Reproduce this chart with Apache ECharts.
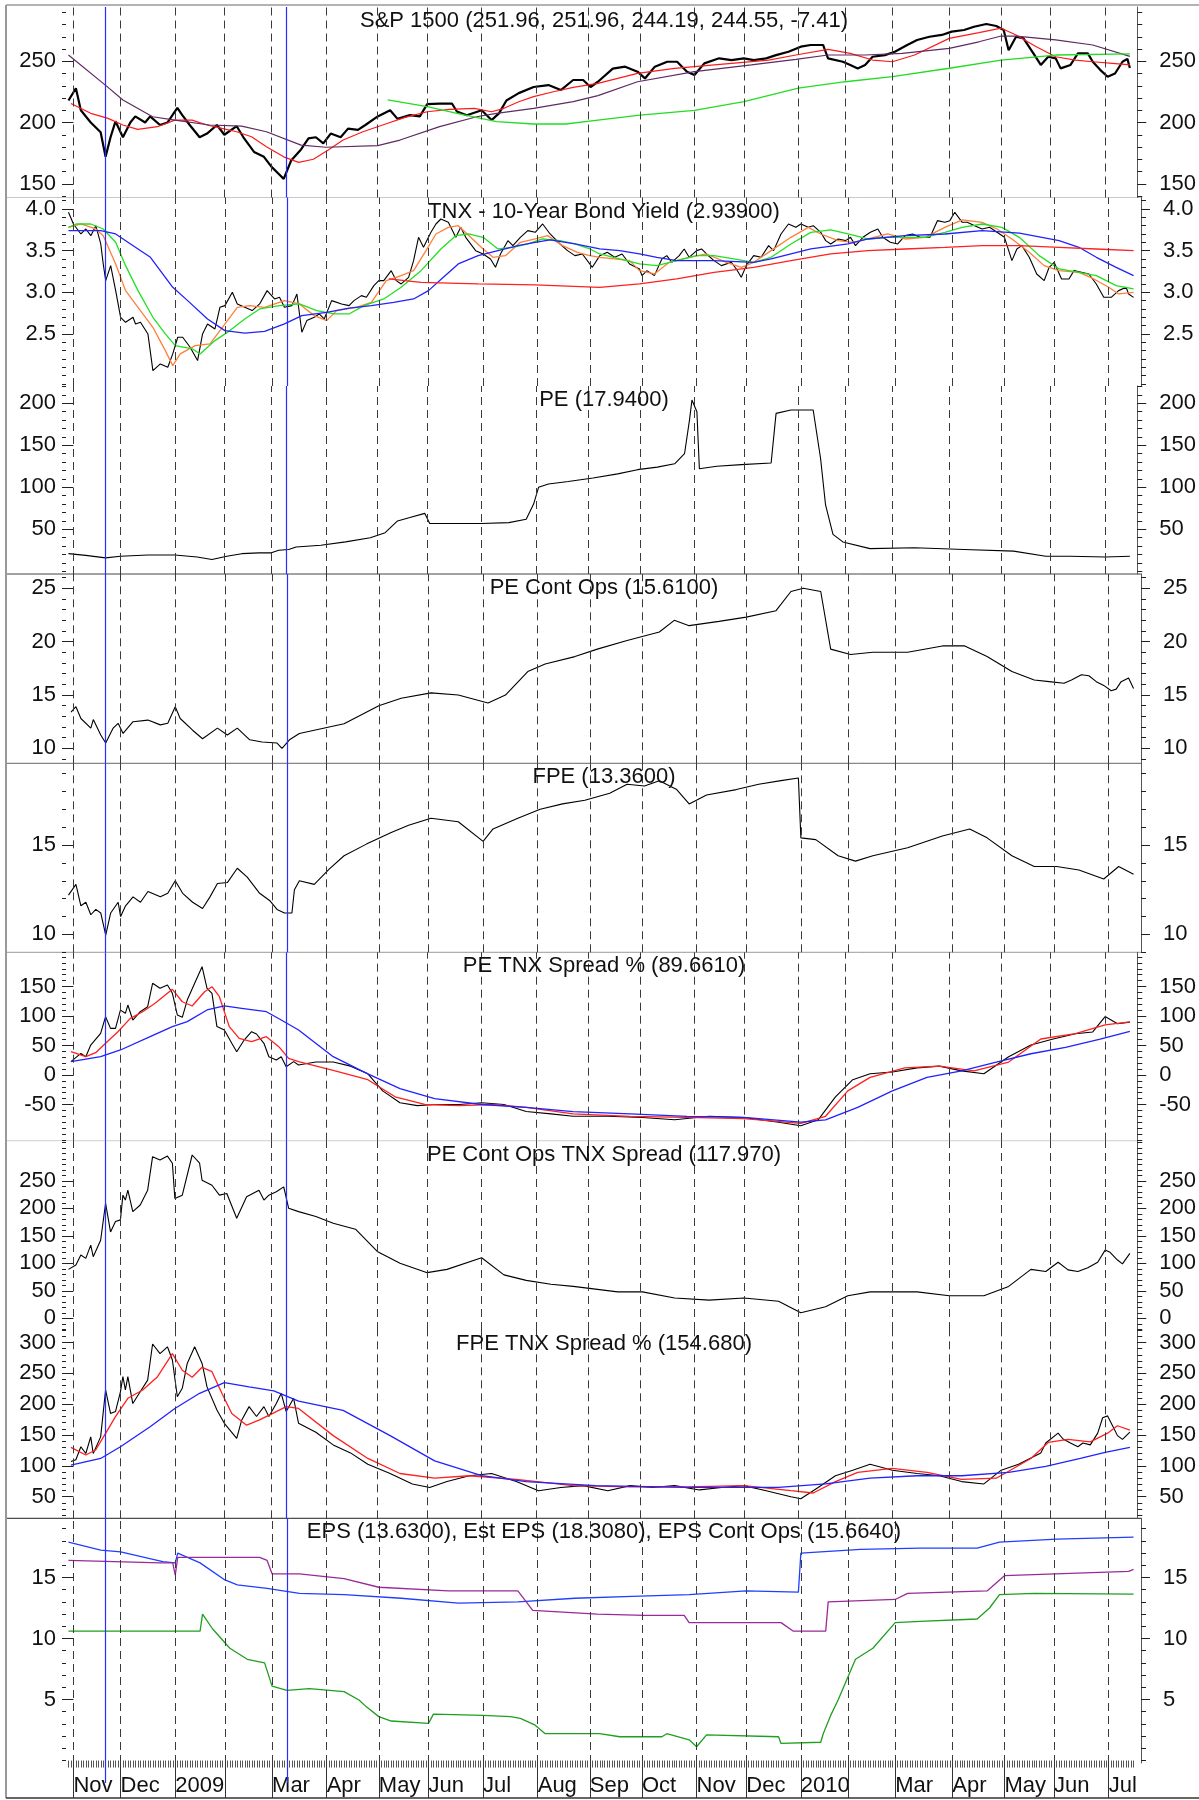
<!DOCTYPE html>
<html>
<head>
<meta charset="utf-8">
<title>S&amp;P 1500 valuation panels</title>
<script src="https://cdn.jsdelivr.net/npm/echarts@6.0.0/dist/echarts.min.js"></script>
<style>
  html, body { margin: 0; padding: 0; background: #fff; }
  #chart { width: 1199px; height: 1800px; }
</style>
</head>
<body>
<div id="chart"></div>
<script>
// x is a trading-day index, 0 = 3 Nov 2008, 427 = 16 Jul 2010
const monthStarts = [0, 19, 41, 61, 80, 102, 123, 143, 165, 187, 208, 229, 251, 271, 293, 312, 331, 354, 375, 395, 417];
const monthLabels = ['Nov', 'Dec', '2009', '', 'Mar', 'Apr', 'May', 'Jun', 'Jul', 'Aug', 'Sep', 'Oct', 'Nov', 'Dec', '2010', '', 'Mar', 'Apr', 'May', 'Jun', 'Jul'];
const markerDays = [13, 86]; // blue verticals

// tick labels
const spxTicks = [150, 200, 250];
const tnxTicks = [2.5, 3.0, 3.5, 4.0];
const peTicks = [50, 100, 150, 200];
const peContTicks = [10, 15, 20, 25];
const fpeTicks = [10, 15];
const peSpreadTicks = [-50, 0, 50, 100, 150];
const peContSpreadTicks = [0, 50, 100, 150, 200, 250];
const fpeSpreadTicks = [50, 100, 150, 200, 250, 300];
const epsTicks = [5, 10, 15];

// S&P 1500 price and averages  [day, value]
const spx = [[-2,218],[1,228],[3,210],[7,200],[11,192],[13,172],[15,188],[17,201],[20,188],[23,200],[25,205],[29,200],[31,205],[35,198],[38,200],[42,212],[44,206],[47,198],[51,188],[54,191],[58,198],[61,190],[66,197],[69,187],[73,176],[77,172],[80,164],[83,158],[85,154],[88,169],[92,178],[95,187],[98,188],[101,183],[104,191],[108,188],[111,195],[115,194],[118,198],[123,205],[128,210],[131,203],[136,206],[140,205],[143,215],[148,215.5],[153,215.5],[155,209],[159,206],[165,210],[169,202],[172,207.5],[175,218],[180,224],[186,229],[192,230.6],[197,226.5],[202,234.7],[206,234.7],[209,229],[212,233.3],[218,244],[223,245.6],[228,241.5],[231,236],[235,245.6],[240,249.6],[244,249.6],[248,241.5],[251,238.8],[255,248.3],[261,252.4],[266,251],[271,252.4],[275,251],[280,252.4],[284,255],[289,257.8],[294,261.9],[298,263.3],[303,263.3],[305,252.4],[311,249.6],[314,247],[317,244.2],[320,247],[323,253.7],[328,255],[332,257.8],[337,263.3],[341,267.4],[346,270],[351,271.5],[355,274.2],[360,275.5],[364,278.2],[369,280.4],[373,278.8],[376,275.5],[378,259],[381,270],[384,268.7],[388,256.4],[391,247],[394,253.7],[397,252.4],[399,244.2],[403,247],[406,256.4],[410,256.4],[412,249.6],[415,243],[418,237.4],[421,240],[424,249.6],[426,251.96],[427,244.55]];
const spxRed = [[-1,215.6],[7,207.5],[14,203.4],[20,198],[26,194.4],[34,196.6],[41,202],[48,202],[54,198],[60,195.2],[66,192.5],[72,188.4],[78,180.2],[85,172],[91,167.5],[97,170],[103,177.6],[109,185.7],[117,192.5],[125,198],[134,204.2],[143,208.8],[152,210.7],[162,211.6],[169,208.8],[174,211.6],[180,217],[186,221.1],[194,225.1],[202,228.7],[212,232],[228,240.1],[243,244.2],[251,245.6],[266,248.3],[281,251],[292,255.1],[305,259.7],[314,256.4],[323,251],[331,249.6],[340,255.1],[354,268.7],[366,273.4],[375,277],[381,271.5],[389,262],[397,253.7],[405,251],[412,249.6],[420,248.3],[427,247]];
const spxPurple = [[-2,255.1],[14,228.7],[20,218.4],[32,204.7],[41,202],[55,198],[68,197.1],[78,192.5],[92,181.6],[102,179.8],[123,181.1],[132,185.7],[148,196.6],[163,204.7],[171,207.5],[186,211.6],[202,217],[212,222],[228,233.3],[251,241.5],[274,247],[292,251.6],[305,255.1],[320,255.1],[335,256.4],[354,260.5],[366,265.9],[375,270.6],[381,270.6],[397,267.4],[412,263.3],[427,254]];
const spxGreen = [[127,218.4],[143,212.9],[155,207.5],[171,200.7],[186,198.8],[199,198.8],[212,202],[229,206],[251,210],[271,217],[293,228],[312,233.3],[331,237.4],[354,244.3],[375,251],[397,255.1],[427,256]];

// TNX and averages
const tnx = [[-2,3.96],[0,3.82],[3,3.70],[5,3.76],[7,3.68],[9,3.80],[11,3.58],[12,3.34],[13,3.14],[15,3.32],[17,3.02],[19,2.70],[21,2.64],[24,2.70],[25,2.62],[27,2.64],[30,2.50],[32,2.06],[35,2.14],[38,2.10],[40,2.26],[42,2.46],[44,2.46],[47,2.34],[50,2.18],[52,2.50],[54,2.62],[57,2.56],[59,2.82],[61,2.84],[64,3.00],[66,2.86],[69,2.82],[72,2.78],[75,2.86],[78,3.02],[81,2.92],[83,2.94],[85,2.82],[88,2.84],[90,2.98],[92,2.52],[94,2.66],[97,2.70],[99,2.74],[101,2.68],[104,2.90],[108,2.86],[111,2.84],[113,2.90],[116,2.96],[118,2.94],[121,3.08],[123,3.14],[125,3.14],[128,3.26],[130,3.14],[132,3.10],[135,3.18],[137,3.38],[139,3.66],[141,3.54],[144,3.72],[146,3.82],[148,3.88],[151,3.84],[154,3.66],[156,3.78],[158,3.66],[162,3.50],[165,3.46],[168,3.40],[170,3.30],[172,3.46],[175,3.62],[177,3.56],[180,3.66],[183,3.74],[186,3.72],[189,3.82],[192,3.70],[196,3.58],[199,3.50],[202,3.44],[205,3.46],[209,3.30],[212,3.44],[215,3.48],[218,3.42],[221,3.46],[224,3.34],[228,3.28],[229,3.20],[231,3.26],[234,3.20],[237,3.40],[239,3.44],[241,3.36],[244,3.44],[246,3.52],[248,3.42],[251,3.50],[253,3.52],[255,3.46],[258,3.38],[261,3.32],[265,3.36],[267,3.28],[269,3.18],[271,3.32],[274,3.44],[277,3.42],[280,3.56],[282,3.50],[285,3.70],[288,3.82],[291,3.78],[293,3.82],[296,3.78],[298,3.80],[301,3.72],[303,3.62],[305,3.58],[308,3.64],[311,3.62],[313,3.66],[315,3.56],[318,3.66],[321,3.72],[324,3.76],[326,3.66],[329,3.60],[332,3.58],[335,3.68],[338,3.70],[341,3.66],[345,3.66],[348,3.86],[351,3.84],[353,3.86],[355,3.96],[358,3.84],[360,3.84],[363,3.80],[366,3.76],[369,3.78],[372,3.72],[375,3.66],[378,3.38],[380,3.52],[382,3.56],[385,3.42],[388,3.22],[391,3.14],[393,3.30],[395,3.36],[398,3.16],[401,3.16],[403,3.26],[406,3.24],[409,3.22],[412,3.10],[415,2.94],[418,2.94],[421,3.02],[424,3.06],[425,2.98],[427,2.939]];
const tnxOrange = [[-2,3.78],[3,3.82],[9,3.76],[12,3.68],[17,3.34],[21,3.02],[26,2.82],[32,2.58],[37,2.30],[40,2.12],[43,2.26],[49,2.36],[55,2.38],[60,2.58],[66,2.82],[71,2.84],[77,2.82],[85,2.90],[91,2.86],[97,2.72],[102,2.66],[106,2.78],[114,2.82],[120,2.88],[126,3.14],[132,3.20],[137,3.26],[142,3.50],[146,3.70],[151,3.78],[155,3.80],[160,3.66],[165,3.52],[169,3.42],[174,3.44],[180,3.60],[186,3.64],[191,3.68],[197,3.56],[203,3.48],[208,3.44],[212,3.42],[218,3.40],[224,3.38],[228,3.26],[234,3.22],[240,3.36],[248,3.42],[255,3.46],[263,3.36],[269,3.30],[274,3.36],[281,3.50],[289,3.66],[296,3.78],[301,3.70],[308,3.62],[314,3.60],[320,3.64],[328,3.70],[335,3.64],[343,3.66],[351,3.78],[358,3.87],[366,3.84],[372,3.76],[378,3.64],[385,3.48],[391,3.32],[397,3.26],[405,3.24],[411,3.16],[417,3.06],[421,2.98],[427,3.00]];
const tnxGreen = [[-2,3.78],[1,3.82],[7,3.82],[12,3.76],[17,3.60],[21,3.32],[26,3.02],[32,2.70],[37,2.50],[41,2.36],[48,2.32],[51,2.26],[57,2.42],[63,2.54],[69,2.68],[75,2.80],[83,2.84],[91,2.86],[98,2.78],[105,2.74],[111,2.74],[117,2.84],[125,2.92],[132,3.06],[140,3.26],[148,3.52],[154,3.68],[159,3.70],[165,3.66],[171,3.52],[177,3.54],[183,3.58],[189,3.64],[196,3.62],[202,3.58],[208,3.52],[212,3.46],[220,3.40],[228,3.34],[235,3.32],[243,3.38],[251,3.44],[258,3.44],[266,3.40],[274,3.36],[281,3.42],[289,3.58],[297,3.72],[305,3.75],[312,3.70],[320,3.64],[328,3.66],[335,3.66],[343,3.66],[351,3.72],[358,3.78],[366,3.82],[374,3.78],[381,3.66],[389,3.44],[397,3.28],[405,3.24],[412,3.20],[420,3.08],[427,3.04]];
const tnxBlue = [[-2,3.74],[11,3.74],[17,3.70],[23,3.58],[31,3.42],[40,3.06],[46,2.90],[54,2.68],[61,2.54],[69,2.51],[77,2.53],[85,2.62],[92,2.72],[102,2.76],[111,2.81],[120,2.84],[129,2.88],[137,2.92],[143,3.02],[149,3.18],[155,3.34],[163,3.44],[171,3.50],[179,3.56],[186,3.60],[192,3.63],[202,3.58],[212,3.52],[220,3.50],[228,3.46],[235,3.42],[243,3.38],[258,3.38],[274,3.36],[281,3.40],[289,3.46],[297,3.52],[312,3.58],[320,3.64],[335,3.68],[351,3.70],[366,3.74],[381,3.71],[397,3.62],[405,3.54],[412,3.42],[420,3.30],[427,3.20]];
const tnxRed = [[127,3.16],[140,3.12],[163,3.10],[186,3.09],[212,3.06],[228,3.10],[243,3.16],[258,3.24],[274,3.30],[289,3.38],[305,3.46],[320,3.50],[335,3.52],[351,3.54],[366,3.56],[381,3.56],[397,3.54],[412,3.52],[427,3.50]];

// valuation series
const pe = [[-2,21],[5,19],[13,16],[19,18],[30,19.5],[41,19.5],[50,17],[56,14],[62,18],[68,21],[75,22],[80,22],[83,25],[87,26],[90,29],[100,31],[110,35],[120,40],[126,46],[131,60],[136,64],[142,69],[144,57],[155,57],[165,57],[176,58],[183,62],[186,80],[188,100],[192,104],[200,107],[210,111],[220,116],[228,121],[236,124],[243,128],[247,140],[249,180],[250,204],[252,190],[253,122],[260,125],[270,127],[282,129],[284,188],[290,192],[299,192],[302,134],[304,79],[307,44],[311,35],[322,27],[340,28],[360,26],[380,24],[393,18],[403,18],[417,17],[427,17.94]];
const peCont = [[-1,13.4],[1,13.9],[3,12.8],[7,11.9],[8,12.7],[11,11.25],[13,10.5],[16,11.9],[18,12.35],[20,11.4],[24,12.5],[30,12.65],[35,12.2],[38,12.35],[41,13.9],[43,12.8],[48,11.7],[52,10.9],[58,11.9],[62,11.25],[66,11.9],[71,10.8],[76,10.6],[82,10.5],[84,10.0],[87,10.8],[91,11.4],[109,12.3],[123,14],[132,14.7],[144,15.2],[155,15],[167,14.25],[174,15],[183,17.2],[190,17.9],[202,18.6],[211,19.3],[223,20.1],[236,20.9],[242,22],[248,21.5],[260,21.9],[271,22.3],[283,22.9],[289,24.7],[294,25],[301,24.7],[305,19.3],[313,18.8],[322,19],[336,19],[350,19.6],[359,19.6],[368,18.6],[378,17.2],[387,16.4],[393,16.25],[399,16.1],[402,16.4],[406,16.9],[409,16.8],[412,16.25],[415,15.9],[418,15.4],[420,15.55],[422,16.25],[425,16.6],[427,15.61]];
const fpe = [[-2,12.2],[1,12.8],[3,11.6],[5,11.8],[7,11.1],[9,11.4],[11,11.2],[13,9.96],[15,11.2],[18,11.8],[19,11.0],[21,11.6],[24,12.1],[27,11.8],[30,12.4],[35,12.1],[38,12.3],[41,13.0],[44,12.3],[48,11.8],[52,11.45],[55,12.1],[58,12.85],[62,12.9],[66,13.7],[70,13.2],[75,12.3],[79,11.9],[82,11.4],[85,11.2],[88,11.2],[89,12.5],[91,13.0],[97,12.8],[103,13.65],[109,14.4],[118,15.05],[128,15.7],[135,16.1],[144,16.5],[155,16.3],[165,15.2],[169,15.9],[179,16.5],[188,17],[197,17.3],[206,17.5],[216,17.9],[223,18.4],[230,18.3],[236,18.6],[243,18.1],[248,17.3],[255,17.8],[267,18.1],[276,18.4],[285,18.6],[292,18.75],[293,15.4],[299,15.3],[308,14.4],[315,14.1],[322,14.4],[336,14.85],[350,15.5],[361,15.9],[368,15.4],[378,14.4],[387,13.8],[396,13.8],[405,13.6],[415,13.1],[421,13.8],[427,13.36]];

const peSpread = [[-1,22.6],[3,36.7],[5,31],[7,50.8],[11,70.7],[13,98.8],[15,79],[17,79],[19,110],[21,104.6],[22,118.6],[24,93.2],[27,107.3],[30,115.8],[32,155.4],[35,147],[38,152.5],[40,138.5],[42,101.7],[44,97.7],[46,127],[49,155.4],[52,183.6],[54,147],[56,138.5],[58,82],[61,76.3],[64,53.7],[66,39.5],[69,59.3],[72,73.4],[74,69.5],[77,53.7],[79,31],[82,25.4],[84,31],[86,14],[89,22.6],[91,17],[95,20],[98,22],[105,22],[112,15],[119,2],[125,-27],[132,-47],[139,-52],[146,-50],[156,-50],[165,-47],[174,-50],[183,-62],[193,-66],[202,-70],[216,-70],[230,-72],[243,-76],[257,-70],[271,-72],[285,-80],[294,-86],[301,-76],[308,-37],[315,-8],[322,2],[331,5],[341,12],[350,15],[359,7],[368,2],[378,31],[387,51],[396,61],[405,70],[412,73],[417,99],[422,87],[427,89.66]];
const peSpreadRed = [[-1,39.5],[5,31],[9,37.8],[13,53.7],[18,73.4],[23,96],[28,107.3],[33,121.5],[40,145.3],[44,124.2],[48,117],[53,141.2],[56,149.7],[59,132.7],[63,82],[67,62.2],[72,56.5],[78,65],[83,48],[87,28.3],[91,22.6],[105,8],[119,-8],[130,-37],[142,-50],[156,-52],[169,-50],[183,-55],[202,-66],[225,-70],[248,-72],[271,-74],[294,-82],[304,-70],[313,-27],[322,-4],[336,12],[350,15],[364,7],[378,22],[391,61],[405,70],[417,85],[427,90]];
const peSpreadBlue = [[-1,22.6],[11,31],[19,42.4],[31,65],[40,82],[46,90.4],[54,110.2],[61,117],[68,113],[78,107.3],[84,93.2],[91,76.3],[105,31],[119,2],[132,-23],[146,-40],[165,-50],[183,-55],[202,-62],[225,-66],[248,-70],[271,-72],[294,-80],[304,-76],[317,-55],[331,-27],[345,-4],[359,7],[373,22],[387,36],[401,47],[415,61],[427,74]];

const peContSpread = [[-2,89],[1,97],[3,115],[5,109],[7,133],[8,112],[11,142],[13,209],[15,157],[17,176],[19,179],[20,224],[21,215],[22,233],[24,194],[27,206],[30,233],[32,294],[35,288],[38,295],[40,282],[41,218],[44,224],[48,297],[51,282],[52,251],[56,242],[59,224],[62,227],[66,182],[70,221],[75,233],[77,215],[79,224],[82,230],[85,239],[87,200],[91,194],[98,185],[105,173],[114,162],[123,121],[132,100],[143,83],[151,89],[165,110],[174,79],[183,69],[193,62],[202,58],[220,48],[230,48],[243,37],[257,33],[271,37],[285,31],[294,10],[304,21],[313,41],[322,48],[341,48],[354,41],[368,41],[378,58],[387,89],[393,85],[398,102],[402,88],[406,85],[410,92],[414,102],[417,124],[419,120],[422,106],[424,99],[427,117.97]];

const fpeSpread = [[-1,107],[1,110],[3,131],[5,120],[7,147],[8,120],[11,147],[13,223],[15,185],[17,188],[19,220],[20,244.5],[21,223],[22,244.5],[24,201],[27,220],[30,239],[32,297.5],[35,282],[38,293],[40,271.6],[42,212],[44,225.7],[46,266],[49,293],[52,266],[54,228],[58,190.5],[61,169],[66,144.6],[68,174],[71,196],[74,180],[77,196],[79,180],[82,201],[84,217.6],[86,188],[89,209.5],[91,169],[98,154.5],[105,134],[112,121],[119,102.5],[128,87.6],[137,70.7],[144,65],[151,74.5],[160,84],[169,87.6],[179,74.5],[188,59.7],[197,65],[206,68],[216,59.7],[225,68],[234,65],[243,68],[253,61],[262,65],[271,68],[280,59.7],[290,50],[294,46.6],[301,65],[308,84],[315,93],[322,102.5],[331,93],[341,87.6],[350,84],[359,74.5],[368,70.7],[375,93],[382,102.5],[391,121],[393,137],[398,153],[400,143.5],[403,137],[406,131],[408,137],[411,134],[414,153],[416,178],[418,181],[420,165],[422,149],[424,143],[427,154.68]];
const fpeSpreadRed = [[-1,130],[5,117.6],[9,125.7],[13,152.7],[17,179.7],[22,209.5],[28,223],[34,244.5],[40,282],[44,255],[48,243.5],[52,259.7],[56,252.6],[60,217.6],[64,185],[70,166],[75,174],[81,186],[86,196],[91,193],[105,149],[119,112],[132,87.6],[146,80],[160,84],[179,78],[202,68],[225,66],[248,66],[271,68],[290,59.7],[299,56],[308,74.5],[317,89.5],[331,96],[345,89.5],[359,78],[373,80],[387,112],[394,138],[402,143],[411,139],[418,153],[422,165],[427,158]];
const fpeSpreadBlue = [[-1,101],[11,112],[19,131],[31,163.5],[41,193],[51,217.6],[61,234.8],[71,228],[81,221.6],[91,205],[109,190],[128,149],[146,108],[165,84],[183,74.5],[211,68],[248,65],[285,65],[304,70.7],[322,80],[341,84],[359,84],[378,89.5],[393,99],[407,112],[417,122],[427,130]];

// earnings
const estEps = [[-2,17.9],[11,17.25],[19,17.1],[36,16.3],[41,16.2],[42,17.0],[51,16.2],[61,14.8],[66,14.4],[78,14.1],[91,13.7],[109,13.6],[132,13.3],[155,12.9],[179,13.0],[202,13.3],[225,13.45],[248,13.6],[271,13.9],[292,13.8],[293,17.0],[317,17.3],[341,17.4],[364,17.4],[373,17.9],[396,18.15],[427,18.3]];
const epsContOps = [[-2,16.4],[35,16.2],[40,16.2],[41,15.2],[42,16.65],[75,16.65],[78,16.4],[80,15.3],[91,15.3],[109,14.9],[123,14.2],[151,13.9],[179,13.9],[185,12.3],[211,12.0],[230,11.9],[246,11.9],[248,11.3],[285,11.3],[290,10.6],[303,10.6],[304,13.0],[331,13.2],[336,13.7],[368,13.9],[375,15.15],[425,15.5],[427,15.66]];
const eps = [[-2,10.6],[51,10.6],[52,12.0],[56,10.8],[63,9.2],[70,8.3],[77,8.0],[80,6.1],[86,5.75],[95,5.9],[109,5.65],[115,4.96],[118,4.4],[123,3.6],[128,3.24],[143,3.05],[145,3.8],[165,3.7],[176,3.6],[180,3.45],[186,2.9],[190,2.2],[212,2.2],[220,1.95],[237,1.95],[239,2.2],[248,1.7],[251,1.13],[255,2.1],[284,1.95],[285,1.4],[301,1.5],[302,2.2],[305,3.7],[308,4.96],[315,8.3],[322,9.2],[331,11.3],[341,11.4],[364,11.6],[369,12.5],[373,13.6],[387,13.7],[427,13.63]];

// ---------- layout ----------
const FONT = "'Liberation Sans', Arial, Helvetica, sans-serif";
const xMin = -3, xMax = 430;
const gridLeft = 66, gridRight = 58;

const panels = [
  { title: 'S&P 1500 (251.96, 251.96, 244.19, 244.55, -7.41)', top: 7, bottom: 197.5, min: 138.8, max: 294.3, ticks: spxTicks, step: 10, dec: 0,
    lines: [[spx, '#000', 2.2], [spxRed, '#ff1a1a', 1.2], [spxPurple, '#5e2a62', 1.2], [spxGreen, '#22dd22', 1.3]] },
  { title: 'TNX - 10-Year Bond Yield (2.93900)', top: 197.5, bottom: 386, min: 1.875, max: 4.138, ticks: tnxTicks, step: 0.1, dec: 1,
    lines: [[tnx, '#000', 1.1], [tnxOrange, '#ff7f3a', 1.3], [tnxGreen, '#22e022', 1.3], [tnxBlue, '#2222ff', 1.3], [tnxRed, '#ff2020', 1.3]] },
  { title: 'PE (17.9400)', top: 386, bottom: 574, min: -3.2, max: 220.6, ticks: peTicks, step: 10, dec: 0,
    lines: [[pe, '#000', 1.1]] },
  { title: 'PE Cont Ops (15.6100)', top: 574, bottom: 763.3, min: 8.6, max: 26.34, ticks: peContTicks, step: 1, dec: 0,
    lines: [[peCont, '#000', 1.1]] },
  { title: 'FPE (13.3600)', top: 763.3, bottom: 952.3, min: 9.0, max: 19.57, ticks: fpeTicks, step: 1, dec: 0,
    lines: [[fpe, '#000', 1.1]] },
  { title: 'PE TNX Spread % (89.6610)', top: 952.3, bottom: 1140.7, min: -111.4, max: 208, ticks: peSpreadTicks, step: 10, dec: 0,
    lines: [[peSpread, '#000', 1.1], [peSpreadRed, '#ff2020', 1.3], [peSpreadBlue, '#2222ff', 1.3]] },
  { title: 'PE Cont Ops TNX Spread (117.970)', top: 1140.7, bottom: 1330, min: -21.3, max: 323, ticks: peContSpreadTicks, step: 10, dec: 0,
    lines: [[peContSpread, '#000', 1.1]] },
  { title: 'FPE TNX Spread % (154.680)', top: 1330, bottom: 1518.3, min: 15, max: 320.2, ticks: fpeSpreadTicks, step: 10, dec: 0,
    lines: [[fpeSpread, '#000', 1.1], [fpeSpreadRed, '#ff2020', 1.3], [fpeSpreadBlue, '#2222ff', 1.3]] },
  { title: 'EPS (13.6300), Est EPS (18.3080), EPS Cont Ops (15.6640)', top: 1518.3, bottom: 1763, min: -0.2, max: 19.85, ticks: epsTicks, step: 1, dec: 0,
    lines: [[estEps, '#1f3fff', 1.3], [epsContOps, '#9a2a9a', 1.3], [eps, '#1f9f1f', 1.3]] }
];

function minorValues(min, max, step) {
  const out = [];
  for (let v = Math.ceil(min / step - 1e-9) * step; v <= max + 1e-9; v += step) out.push(+v.toFixed(4));
  return out;
}

const allDays = [];
for (let d = -2; d <= 427; d++) allDays.push(d);
const labelDays = monthStarts.filter((d, i) => monthLabels[i] !== '');
const labelOf = {};
monthStarts.forEach((d, i) => { labelOf[d] = monthLabels[i]; });

const grids = [], xAxes = [], yAxes = [], series = [], graphics = [];

const dashLines = monthStarts.map(d => ({ xAxis: d, lineStyle: { type: [8, 5], color: '#3a3a3a', width: 1 } }));
const blueLines = markerDays.map(d => ({ xAxis: d, lineStyle: { type: 'solid', color: '#2b2bff', width: 1.2 } }));

panels.forEach((p, gi) => {
  grids.push({ left: gridLeft, right: gridRight, top: p.top, height: p.bottom - p.top });
  const last = gi === panels.length - 1;
  xAxes.push({
    type: 'value', gridIndex: gi, min: xMin, max: xMax, show: last,
    axisLine: { show: false },
    axisTick: { show: true, customValues: allDays, length: 7, lineStyle: { color: '#555', width: 1 } },
    axisLabel: {
      show: true, customValues: labelDays, formatter: v => labelOf[v] || '',
      align: 'left', fontSize: 22, margin: 12, color: '#111', fontFamily: FONT
    },
    splitLine: { show: false }
  });
  const minors = minorValues(p.min, p.max, p.step);
  const fmt = v => v.toFixed(p.dec);
  const base = { type: 'value', gridIndex: gi, min: p.min, max: p.max, splitLine: { show: false } };
  yAxes.push(Object.assign({}, base, {
    position: 'left', axisLine: { show: false },
    axisTick: { show: true, customValues: p.ticks, length: 9, lineStyle: { color: '#222' } },
    axisLabel: { show: true, customValues: p.ticks, formatter: fmt, fontSize: 22, margin: 10, color: '#111', fontFamily: FONT }
  }));
  yAxes.push(Object.assign({}, base, {
    position: 'left', axisLine: { show: false },
    axisTick: { show: true, customValues: minors, length: 4, lineStyle: { color: '#222' } },
    axisLabel: { show: false }
  }));
  yAxes.push(Object.assign({}, base, {
    position: 'right', axisLine: { show: true, lineStyle: { color: '#555', width: 1 } },
    axisTick: { show: true, customValues: p.ticks, length: 9, lineStyle: { color: '#222' } },
    axisLabel: { show: true, customValues: p.ticks, formatter: fmt, fontSize: 22, margin: 22, color: '#111', fontFamily: FONT }
  }));
  yAxes.push(Object.assign({}, base, {
    position: 'right', axisLine: { show: false },
    axisTick: { show: true, customValues: minors, length: 5, lineStyle: { color: '#222' } },
    axisLabel: { show: false }
  }));

  p.lines.forEach(([data, color, width], si) => {
    const s = {
      type: 'line', xAxisIndex: gi, yAxisIndex: gi * 4, data: data,
      symbol: 'none', showSymbol: false, silent: true, z: 3 + (si === 0 ? 0 : 1),
      lineStyle: { color: color, width: width }
    };
    if (si === 0) {
      s.markLine = { silent: true, symbol: ['none', 'none'], label: { show: false }, animation: false, data: dashLines.concat(blueLines) };
    }
    series.push(s);
  });

  graphics.push({
    type: 'text', x: 604, y: p.top + 3, z: 50,
    style: { text: p.title, fontSize: 22, fontFamily: FONT, fill: '#111', align: 'center', verticalAlign: 'top' }
  });
});

// strip under the bottom axis: month separators and marker extensions
const stripTop = 1763;
[[35, dashLines.map(d => ({ xAxis: d.xAxis, lineStyle: { type: 'solid', color: '#333', width: 1 } }))],
 [20, blueLines]].forEach(([h, marks]) => {
  const gi = grids.length;
  grids.push({ left: gridLeft, right: gridRight, top: stripTop, height: h });
  xAxes.push({ type: 'value', gridIndex: gi, min: xMin, max: xMax, show: false });
  yAxes.push({ type: 'value', gridIndex: gi, min: 0, max: 1, show: false });
  series.push({
    type: 'line', xAxisIndex: gi, yAxisIndex: yAxes.length - 1, data: [], symbol: 'none', silent: true,
    markLine: { silent: true, symbol: ['none', 'none'], label: { show: false }, animation: false, data: marks }
  });
});

// frame and panel separators
const sepLines = [[197.5, '#c8c8c8'], [574, '#444'], [763.3, '#666'], [952.3, '#999'], [1140.7, '#cfcfcf'], [1518.3, '#222']];
sepLines.forEach(([y, c]) => graphics.push({ type: 'line', shape: { x1: 6, y1: y, x2: 1141.5, y2: y }, style: { stroke: c, lineWidth: 1 }, silent: true }));
graphics.push({ type: 'line', shape: { x1: 6, y1: 5, x2: 1199, y2: 5 }, style: { stroke: '#999', lineWidth: 1.5 }, silent: true });
graphics.push({ type: 'line', shape: { x1: 6, y1: 5, x2: 6, y2: 1798 }, style: { stroke: '#999', lineWidth: 2 }, silent: true });
graphics.push({ type: 'line', shape: { x1: 6, y1: 1798, x2: 1199, y2: 1798 }, style: { stroke: '#333', lineWidth: 1.5 }, silent: true });

const chart = echarts.init(document.getElementById('chart'), null, { renderer: 'canvas' });
chart.setOption({
  animation: false,
  backgroundColor: '#fff',
  textStyle: { fontFamily: FONT },
  grid: grids,
  xAxis: xAxes,
  yAxis: yAxes,
  series: series,
  graphic: graphics
});
</script>
</body>
</html>
